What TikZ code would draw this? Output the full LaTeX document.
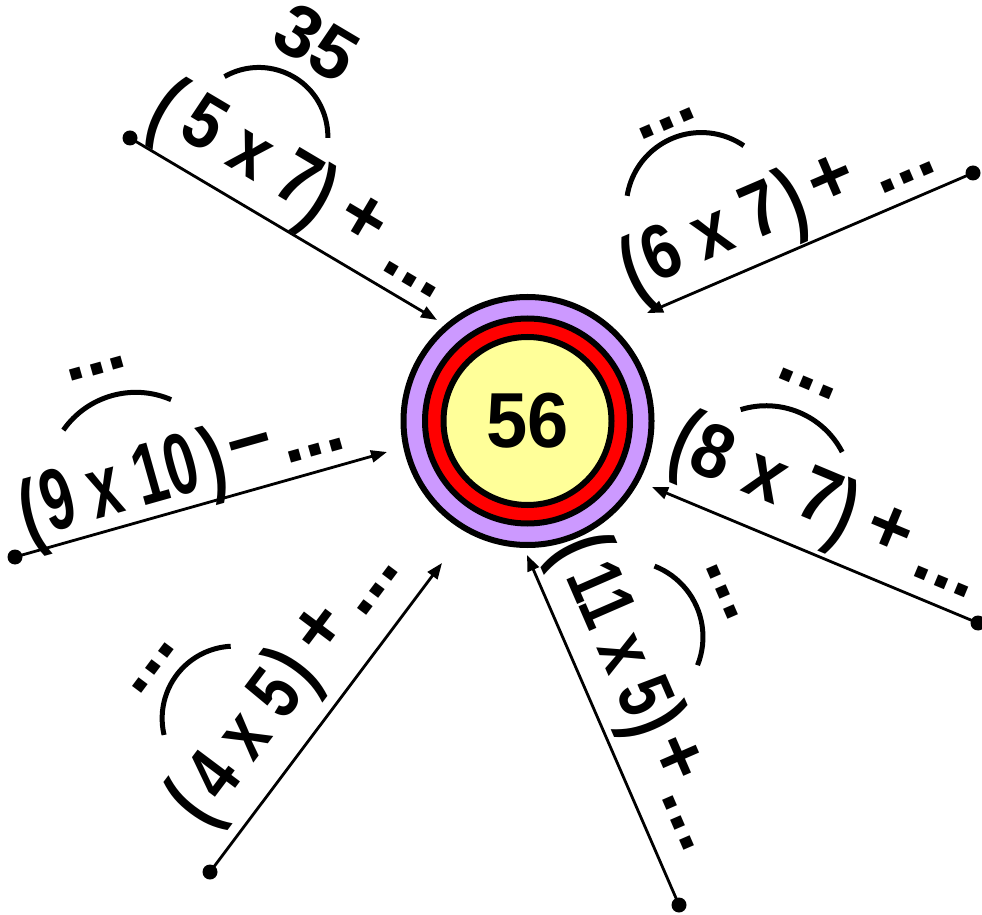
\documentclass[tikz,border=0pt]{standalone}
\usepackage{fontspec}
\setmainfont{Liberation Sans}
\usepackage{graphicx}
\usetikzlibrary{arrows.meta}
\definecolor{purp}{HTML}{CC99FF}
\definecolor{yel}{HTML}{FFFF99}
\newcommand\fz[1]{\fontsize{#1}{#1}\selectfont\bfseries}
\newcommand\lp{\scalebox{0.72}[1]{(}}
\newcommand\rp{\scalebox{0.72}[1]{)}}
\begin{document}
\begin{tikzpicture}[x=1pt,y=1pt,
  lbl/.style={inner sep=0pt, outer sep=0pt, font=\fz{77}, transform shape},
  par/.style={inner sep=0pt, outer sep=0pt, font=\fz{86}, transform shape},
  arcl/.style={line width=5pt},
  dotn/.style={circle, fill=black, inner sep=0pt, minimum size=15pt},
  arr/.style={line width=2.8pt, -{Triangle[length=16pt,width=12pt]}},
  ring/.style={circle, draw=black, line width=6pt, inner sep=0pt}]
\useasboundingbox (0,0) rectangle (982,914);
% centre
\node[ring, fill=purp, minimum size=248pt] (c0) at (527.5,493) {};
\node[ring, fill=red, minimum size=205pt] (c1) at (c0.center) {};
\node[ring, fill=yel, minimum size=168pt, font=\fz{78}] (c2) at (c0.center) {\scalebox{0.95}[1]{56}};
% end dots and arrow tips
\node[dotn] (d1) at (130,776) {};
\node[dotn] (d2) at (973,741) {};
\node[dotn] (d3) at (15,357) {};
\node[dotn] (d4) at (978,291) {};
\node[dotn] (d5) at (210,42) {};
\node[dotn] (d6) at (679,9) {};
\coordinate (t1) at (437,594);
\coordinate (t2) at (647,601);
\coordinate (t3) at (387,462);
\coordinate (t4) at (652,427);
\coordinate (t5) at (442,351);
\coordinate (t6) at (527,359);
\foreach \i in {1,...,6} \draw[arr] (d\i.center) -- (t\i);
% label 1
\begin{scope}[shift={(d1.center)}, rotate=-30.66]
\node[par] (p1a) at (16,41) {\lp};
\node[lbl] (g1) at (111.5,52) {\scalebox{0.85}[1]{5 x 7}};
\node[par] (p1b) at (194,41) {\rp};
\node[lbl] (s1) at (242,49) {+};
\node[lbl] (e1) at (313,21) {...};
\draw[arcl] (50,101) arc[start angle=150.5, end angle=29.5, radius=69];
\node[lbl, font=\fz{74}] (r1) at (112,177) {35};
\end{scope}
% label 2
\begin{scope}[shift={(t2)}, rotate=23.24]
\node[par] (p2a) at (5,39) {\lp};
\node[lbl] (g2) at (91,51) {\scalebox{0.85}[1]{6 x 7}};
\node[par] (p2b) at (178,42) {\rp};
\node[lbl] (s2) at (222,50) {+};
\node[lbl] (e2) at (293,22) {...};
\draw[arcl] (28,115.5) arc[start angle=147.7, end angle=32.3, radius=75.1];
\node[lbl] (r2) at (93,166) {...};
\end{scope}
% label 3
\begin{scope}[shift={(d3.center)}, rotate=15.76]
\node[par] (p3a) at (27,33) {\lp};
\node[lbl, font=\fz{87}] (g3) at (121,44) {\scalebox{0.66}[1]{9 x 10}};
\node[par] (p3b) at (218,35) {\rp};
\node[lbl] (s3) at (257,37) {−};
\node[lbl] (e3) at (318,21) {...};
\draw[arcl] (81,109) arc[start angle=129.3, end angle=50.7, radius=88.4];
\node[lbl] (r3) at (130,159) {...};
\end{scope}
% label 4
\begin{scope}[shift={(t4)}, rotate=-22.64]
\node[par] (p4a) at (13,51) {\lp};
\node[lbl] (g4) at (101,57) {\scalebox{0.9}[1]{8 x 7}};
\node[par] (p4b) at (188,45) {\rp};
\node[lbl] (s4) at (236,51) {+};
\node[lbl] (e4) at (304,24) {...};
\draw[arcl] (52,105.5) arc[start angle=130, end angle=50, radius=85.6];
\node[lbl] (r4) at (103,155) {...};
\end{scope}
% label 5
\begin{scope}[shift={(d5.center)}, rotate=53.1]
\node[par] (p5a) at (42,51) {\lp};
\node[lbl] (g5) at (130,56) {\scalebox{0.8}[1]{4 x 5}};
\node[par] (p5b) at (213,51) {\rp};
\node[lbl] (s5) at (261,58) {+};
\node[lbl] (e5) at (326,35) {...};
\draw[arcl] (82,119) arc[start angle=140.2, end angle=39.8, radius=72.2];
\node[lbl] (r5) at (129,168) {...};
\end{scope}
% label 6
\begin{scope}[shift={(t6)}, rotate=-66.52]
\node[par] (p6a) at (16,48) {\lp};
\node[lbl] (g6) at (114,53) {\scalebox{0.75}[1]{11 x 5}};
\node[par] (p6b) at (204,48) {\rp};
\node[lbl] (s6) at (246,57) {+};
\node[lbl] (e6) at (306,32) {...};
\draw[arcl] (61,112.5) arc[start angle=135.3, end angle=44.7, radius=76];
\node[lbl] (r6) at (112,165) {...};
\end{scope}
\end{tikzpicture}
\end{document}
